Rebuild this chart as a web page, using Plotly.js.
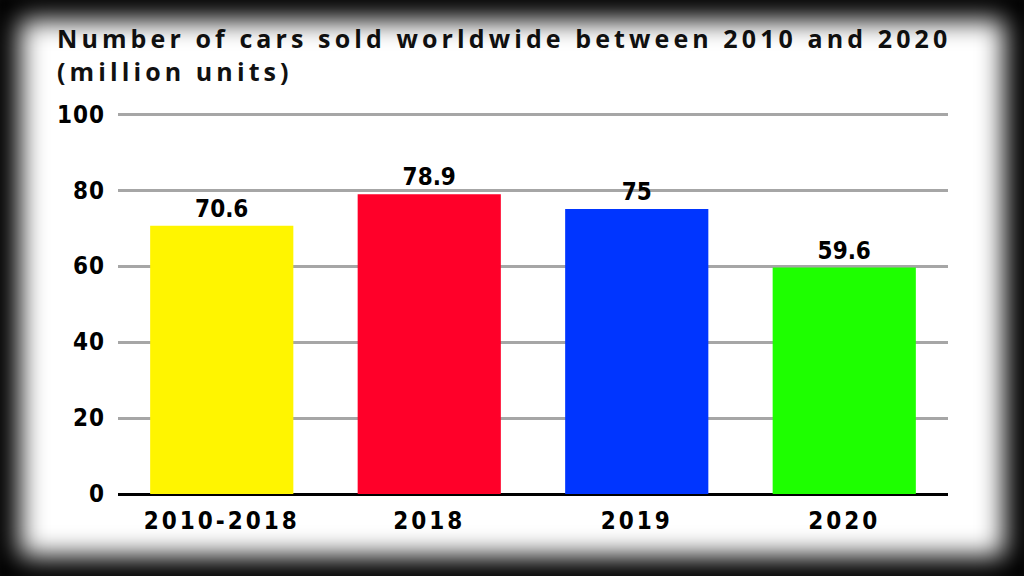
<!DOCTYPE html>
<html><head><meta charset="utf-8">
<script src="https://cdn.plot.ly/plotly-3.0.1.min.js"></script>
<style>
html,body{margin:0;padding:0;background:#000;}
#wrap{position:relative;width:1024px;height:576px;background:#fff;overflow:hidden;}
#chart{position:absolute;left:0;top:0;width:1024px;height:576px;}
#vig{position:absolute;left:0;top:0;width:1024px;height:576px;pointer-events:none;box-shadow:inset 0 0 26px 20px #000;}
.gtitle{letter-spacing:4.1px;}
.xtick text{letter-spacing:3px;}
.ytick text{letter-spacing:1px;}
.textpoint text{letter-spacing:2px;}
</style></head>
<body><div id="wrap"><div id="chart"></div><div id="vig"></div></div>
<script>
const categories = ["2010-2018", "2018", "2019", "2020"];
const values = [70.6, 78.9, 75, 59.6];
const labels = ["70.6", "78.9", "75", "59.6"];
const colors = ["#fff500", "#ff0029", "#0035ff", "#1eff00"];
const yTicks = [0, 20, 40, 60, 80, 100];

const trace = {
  type: "bar",
  x: categories,
  y: values,
  text: labels,
  textposition: "outside",
  cliponaxis: false,
  textfont: {family: "DejaVu Sans Condensed, DejaVu Sans", size: 24, color: "#000", weight: 700},
  marker: {color: colors, line: {width: 0}},
  hoverinfo: "none"
};
const layout = {
  width: 1024, height: 576,
  paper_bgcolor: "rgba(0,0,0,0)", plot_bgcolor: "rgba(0,0,0,0)",
  margin: {l: 118, r: 76, t: 113, b: 82},
  bargap: 0.31,
  showlegend: false,
  title: {
    text: "Number of cars sold worldwide between 2010 and 2020<br>(million units)",
    xref: "container", yref: "container", x: 57/1024, xanchor: "left",
    y: 1 - 48/576, yanchor: "top",
    font: {family: "Open Sans", size: 25, color: "#111", weight: 700}
  },
  xaxis: {
    type: "category", showgrid: false, showline: false, ticks: "",
    ticklabelstandoff: 10,
    tickfont: {family: "DejaVu Sans Condensed, DejaVu Sans", size: 24, color: "#000", weight: 700},
    fixedrange: true
  },
  yaxis: {
    range: [0, 100.3], tickvals: yTicks, ticktext: yTicks.map(String),
    showgrid: true, gridcolor: "#a6a6a6", gridwidth: 3,
    zeroline: true, zerolinecolor: "#000", zerolinewidth: 3,
    showline: false, ticks: "", ticklabelstandoff: 12,
    tickfont: {family: "DejaVu Sans Condensed, DejaVu Sans", size: 24, color: "#000", weight: 700},
    fixedrange: true
  }
};
Plotly.newPlot("chart", [trace], layout, {staticPlot: true, displayModeBar: false});
</script></body></html>
